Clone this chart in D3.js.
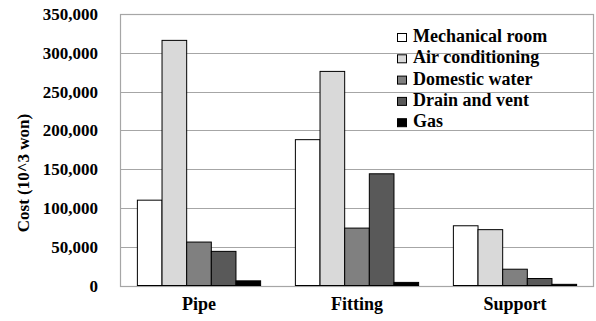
<!DOCTYPE html>
<html>
<head>
<meta charset="utf-8">
<script src="https://cdn.jsdelivr.net/npm/d3@7"></script>
</head>
<body style="margin:0">
<div id="chart"></div>
<script>
// categories, series and values
const categories = ["Pipe", "Fitting", "Support"];
const seriesNames = ["Mechanical room", "Air conditioning", "Domestic water", "Drain and vent", "Gas"];
const seriesColors = ["#ffffff", "#d9d9d9", "#808080", "#595959", "#000000"];
const mechanicalRoom = [110000, 188000, 77000];
const airConditioning = [316000, 276000, 72000];
const domesticWater = [56000, 74000, 21000];
const drainAndVent = [44000, 144000, 9000];
const gas = [6000, 4000, 1500];
const yTicks = [0, 50000, 100000, 150000, 200000, 250000, 300000, 350000];

const seriesValues = [mechanicalRoom, airConditioning, domesticWater, drainAndVent, gas];

const width = 596, height = 321;
const margin = { top: 14, right: 2, bottom: 35.5, left: 120 };
const font = "Liberation Serif";

const svg = d3.select("#chart").append("svg")
    .attr("width", width)
    .attr("height", height);

const x = d3.scaleBand()
    .domain(categories)
    .range([margin.left, width - margin.right])
    .paddingInner(0.22)
    .paddingOuter(0.11);

const xSeries = d3.scaleBand()
    .domain(seriesNames)
    .range([0, x.bandwidth()]);

const y = d3.scaleLinear()
    .domain([0, 350000])
    .range([height - margin.bottom, margin.top]);

// gridlines
svg.selectAll("line.grid")
    .data(yTicks)
    .join("line")
    .attr("class", "grid")
    .attr("x1", margin.left)
    .attr("x2", width - margin.right)
    .attr("y1", d => Math.round(y(d)) + 0.5)
    .attr("y2", d => Math.round(y(d)) + 0.5)
    .attr("stroke", "#a6a6a6")
    .attr("stroke-width", 1.2);

// plot frame
svg.append("rect")
    .attr("x", margin.left + 0.5)
    .attr("y", Math.round(y(350000)) + 0.5)
    .attr("width", width - margin.right - margin.left - 1)
    .attr("height", Math.round(y(0)) - Math.round(y(350000)))
    .attr("fill", "none")
    .attr("stroke", "#a6a6a6")
    .attr("stroke-width", 1.2);

// bars, flattened to one rect per category/series pair
const barData = categories.flatMap((c, ci) =>
    seriesNames.map((s, si) => ({ c, s, si, v: seriesValues[si][ci] })));

svg.selectAll("rect.bar")
    .data(barData)
    .join("rect")
    .attr("class", "bar")
    .attr("x", d => x(d.c) + xSeries(d.s))
    .attr("y", d => y(d.v))
    .attr("width", xSeries.bandwidth())
    .attr("height", d => y(0) - y(d.v))
    .attr("fill", d => seriesColors[d.si])
    .attr("stroke", "#000")
    .attr("stroke-width", 1);

// all texts sit straight on the svg with plain x/y
svg.selectAll("text.ytick")
    .data(yTicks)
    .join("text")
    .attr("class", "ytick")
    .attr("x", 98)
    .attr("y", d => Math.round(y(d) + 6))
    .attr("text-anchor", "end")
    .attr("font-family", font)
    .attr("font-weight", "bold")
    .attr("font-size", 17)
    .text(d => d3.format(",")(d));

svg.selectAll("text.xlabel")
    .data(categories)
    .join("text")
    .attr("class", "xlabel")
    .attr("x", d => x(d) + x.bandwidth() / 2)
    .attr("y", 310)
    .attr("text-anchor", "middle")
    .attr("font-family", font)
    .attr("font-weight", "bold")
    .attr("font-size", 18)
    .text(d => d);

svg.append("text")
    .attr("class", "ytitle")
    .attr("transform", "translate(29,173) rotate(-90)")
    .attr("text-anchor", "middle")
    .attr("font-family", font)
    .attr("font-weight", "bold")
    .attr("font-size", 17)
    .text("Cost (10^3 won)");

// legend
const legendY = i => 42 + i * 21.3;

svg.selectAll("rect.key")
    .data(seriesNames)
    .join("rect")
    .attr("class", "key")
    .attr("x", 397.5)
    .attr("y", (d, i) => legendY(i) - 8.5)
    .attr("width", 9)
    .attr("height", 8)
    .attr("fill", (d, i) => seriesColors[i])
    .attr("stroke", "#000")
    .attr("stroke-width", 1);

svg.selectAll("text.legend")
    .data(seriesNames)
    .join("text")
    .attr("class", "legend")
    .attr("x", 413)
    .attr("y", (d, i) => Math.round(legendY(i)))
    .attr("font-family", font)
    .attr("font-weight", "bold")
    .attr("font-size", 18)
    .text(d => d);
</script>
</body>
</html>
